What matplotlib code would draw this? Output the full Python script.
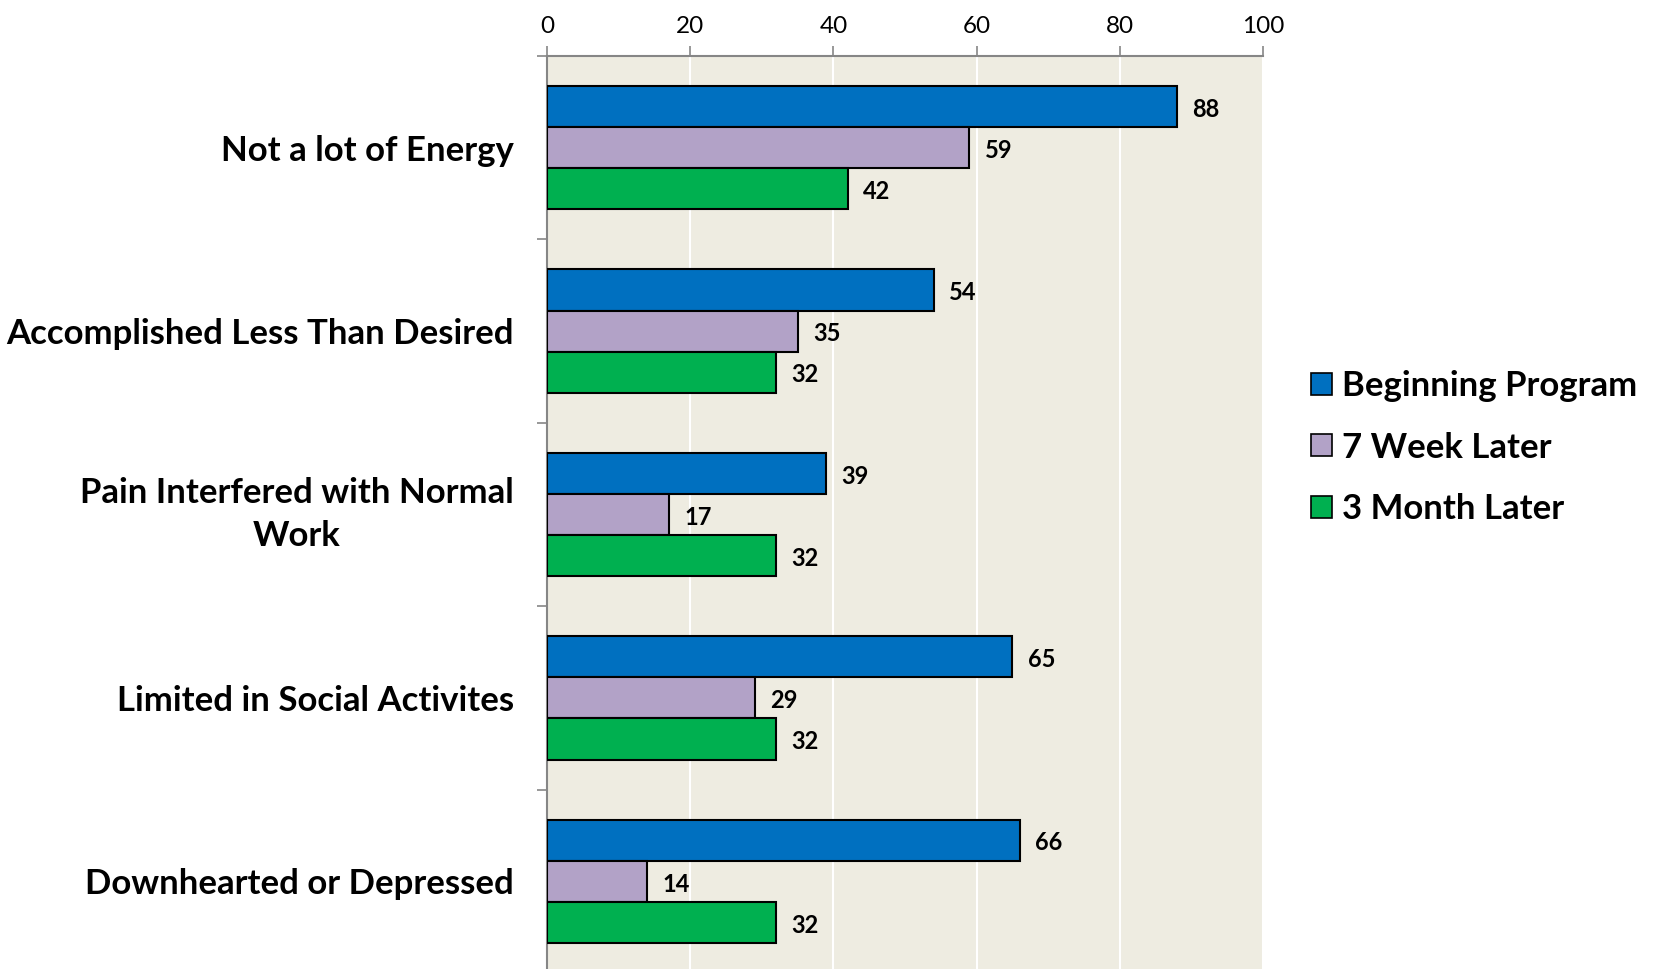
import matplotlib
matplotlib.use("Agg")
import matplotlib.pyplot as plt
from matplotlib.patches import Patch
import numpy as np

categories = [
    "Not a lot of Energy",
    "Accomplished Less Than Desired",
    "Pain Interfered with Normal\nWork",
    "Limited in Social Activites",
    "Downhearted or Depressed",
]
beginning = [88, 54, 39, 65, 66]
week7 = [59, 35, 17, 29, 14]
month3 = [42, 32, 32, 32, 32]
series_names = ["Beginning Program", "7 Week Later", "3 Month Later"]
colors = ["#0070C0", "#B2A2C7", "#00B050"]
x_ticks = [0, 20, 40, 60, 80, 100]

plt.rcParams["font.family"] = ["Lato", "DejaVu Sans"]

fig = plt.figure(figsize=(16.53, 9.69), dpi=100)
ax = fig.add_axes([0.3309, -0.0041, 0.4332, 0.9463])
ax.set_facecolor("#EEECE1")

y = np.arange(len(categories))
h = 0.224
offsets = [-h, 0.0, h]
for vals, off, col in zip([beginning, week7, month3], offsets, colors):
    bars = ax.barh(y + off, vals, height=h, color=col, edgecolor="black",
                   linewidth=1.5, zorder=3)
    for b, v in zip(bars, vals):
        ax.annotate(str(v), (b.get_width(), b.get_y() + b.get_height() / 2),
                    xytext=(11, -2), textcoords="offset points",
                    ha="left", va="center", fontsize=17, fontweight="bold")

ax.set_xlim(0, 100)
ax.set_ylim(len(categories) - 0.5, -0.5)
ax.set_xticks(x_ticks)
ax.xaxis.tick_top()
ax.tick_params(axis="x", direction="out", length=7, width=1.2, color="#868686",
               labelsize=17.5, pad=7)
ax.grid(axis="x", color="white", linewidth=1.5, zorder=1)

ax.set_yticks(y)
ax.set_yticklabels(categories, fontsize=25, fontweight="bold")
for lbl in ax.get_yticklabels():
    lbl.set_multialignment("center")
    lbl.set_linespacing(1.4)
    if "\n" in lbl.get_text():
        lbl.set_verticalalignment("center")
ax.set_yticks(np.arange(-0.5, len(categories) + 0.5, 1), minor=True)
ax.tick_params(axis="y", which="major", length=0, pad=24)
ax.tick_params(axis="y", which="minor", length=7, width=1.2, color="#868686")

for side in ["right", "bottom"]:
    ax.spines[side].set_visible(False)
for side in ["top", "left"]:
    ax.spines[side].set_color("#868686")
    ax.spines[side].set_linewidth(1.5)

handles = [Patch(facecolor=c, edgecolor="black", linewidth=1.2) for c in colors]
fig.legend(handles, series_names, loc="center left",
           bbox_to_anchor=(0.774, 0.538), frameon=False,
           prop={"size": 25, "weight": "bold"},
           handlelength=0.6, handleheight=0.6, handletextpad=0.3,
           labelspacing=0.85)

fig.savefig("out.png", dpi=100)
